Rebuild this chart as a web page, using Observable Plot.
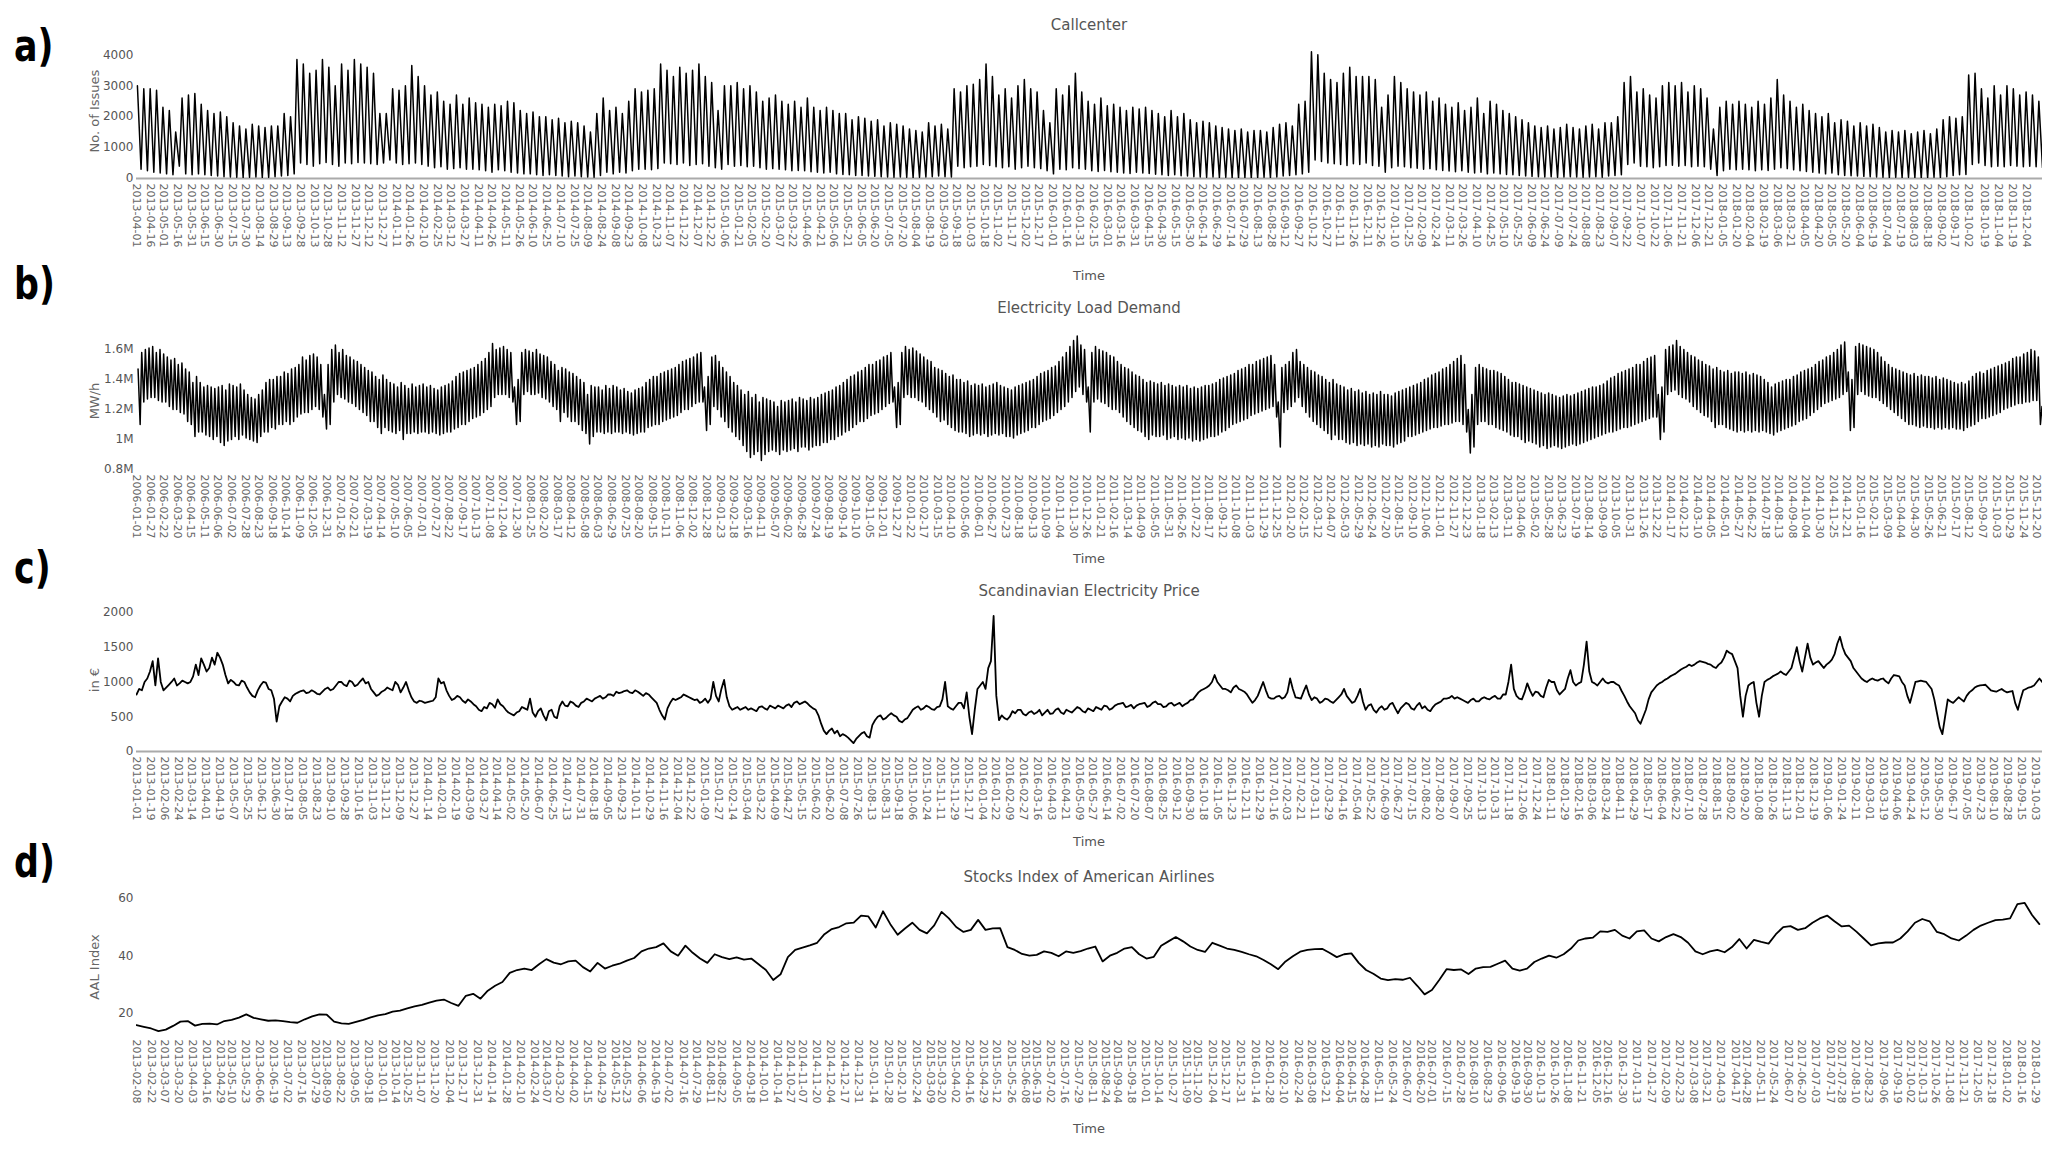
<!DOCTYPE html>
<html><head><meta charset="utf-8">
<script src="https://cdn.jsdelivr.net/npm/d3@7"></script>
<script src="https://cdn.jsdelivr.net/npm/@observablehq/plot@0.6"></script>
<style>
body{margin:0;background:#fff;}
#root{position:relative;width:2072px;height:1150px;overflow:hidden;background:#fff;font-family:"DejaVu Sans",sans-serif;}
.t{position:absolute;white-space:nowrap;line-height:1;}
.letter{font-family:"Liberation Sans Narrow","DejaVu Sans Condensed",sans-serif;font-weight:bold;font-size:44px;color:#000;transform-origin:0 0;transform:translate(0,-50%) scaleX(0.88);}
.title{font-size:15px;color:#555;transform:translate(-50%,-50%);}
.ylab{font-size:13px;color:#666;transform:translate(-50%,-50%) rotate(-90deg);}
.xlab{font-size:13px;color:#555;transform:translate(-50%,-50%);}
</style></head>
<body><div id="root"></div>
<script>
// ---------- a) Callcenter: weekly weekday peak / weekend low ----------
const callStart = "2013-04-01";
const callHigh = [
3000,2900,2900,2850,2300,2200,1500,2600,2700,2750,
2400,2200,2100,2150,2000,1800,1700,1600,1750,1700,
1650,1700,1700,2100,2000,3850,3700,3400,3500,3850,
3600,3000,3700,3500,3850,3700,3600,3400,2100,2100,
2900,2850,3000,3650,3300,3000,2700,2800,2500,2400,
2700,2400,2600,2450,2400,2300,2400,2350,2500,2450,
2200,2100,2150,2000,2000,1900,1950,1800,1850,1800,
1700,1500,2100,2600,2200,2300,2100,2500,2900,2800,
2850,2900,3700,3500,3300,3600,3400,3500,3700,3300,
3100,2200,3000,3000,3100,2900,3000,2800,2500,2600,
2700,2500,2400,2500,2300,2600,2300,2200,2300,2200,
2100,2100,1900,2000,1950,1850,1900,1700,1800,1750,
1700,1600,1550,1500,1800,1700,1750,1600,2900,2800,
3000,3050,3200,3700,3300,2700,2900,2600,3000,3200,
2900,2800,2200,1800,2900,2700,3000,3400,2800,2500,
2400,2600,2350,2400,2300,2200,2300,2250,2300,2200,
2100,2000,2200,2000,2100,1900,1800,1850,1800,1700,
1650,1600,1550,1600,1500,1550,1550,1500,1650,1750,
1800,1700,2400,2500,4100,4000,3400,3200,3100,3400,
3600,3300,3300,3300,3200,2300,2700,3300,3100,2900,
2800,2700,2800,2500,2600,2400,2300,2450,2200,2300,
2600,2100,2500,2400,2200,2100,2000,1900,1800,1700,
1650,1700,1600,1650,1750,1650,1600,1700,1750,1600,
1800,1800,2000,3100,3300,2800,2900,2700,2600,3000,
3100,3000,3100,2800,3000,2900,2600,1600,2300,2500,
2400,2500,2400,2300,2500,2400,2600,3200,2700,2500,
2300,2400,2200,2100,2000,2100,1800,1900,1850,1700,
1800,1700,1750,1650,1500,1550,1500,1550,1450,1500,
1550,1450,1600,1900,2000,1950,2000,3350,3400,2900,
2600,3000,2700,3000,2900,2700,2800,2700,2500];
const callLow = [
300,250,200,180,150,120,400,150,120,150,
120,100,80,60,50,40,30,40,50,30,
40,60,80,100,150,500,450,400,480,520,
450,400,500,480,520,500,480,450,500,600,
500,450,480,500,450,400,350,380,300,320,
350,300,300,280,250,200,280,250,200,180,
150,150,120,100,120,100,80,60,80,60,
50,40,100,200,150,200,180,250,300,300,
280,320,500,480,450,500,420,450,480,400,
350,300,450,400,420,380,400,350,300,320,
300,280,250,260,250,220,200,180,200,150,
130,120,100,100,80,70,60,50,40,50,
40,30,40,50,60,80,60,50,400,350,
380,400,450,420,380,350,380,300,350,400,
350,320,250,150,300,280,350,320,300,250,
230,260,220,200,180,160,200,180,160,140,
120,100,120,90,80,60,50,40,50,30,
40,30,20,30,20,30,40,30,50,80,
100,120,150,200,600,550,500,480,450,420,
480,450,500,420,400,200,350,400,380,350,
330,300,320,280,260,240,220,250,200,180,
200,150,180,150,130,120,100,80,70,60,
50,60,40,50,60,50,40,50,60,40,
80,100,120,450,500,400,380,350,380,420,
430,400,420,380,400,380,300,100,250,300,
280,300,280,250,280,260,300,350,320,280,
250,230,200,180,150,180,120,100,90,80,
70,60,50,40,30,40,30,40,30,20,
30,40,30,60,100,120,130,450,500,420,
380,400,380,420,400,380,400,380,350];
const callTickStart = "2013-04-01", callTickStep = 15, callTickCount = 135;
const callTickExtra = ["2018-10-19","2018-11-04","2018-11-19","2018-12-04"];
const callYTicks = [0,1000,2000,3000,4000];

// ---------- b) Electricity load (millions MW/h): weekly weekday peak / weekend low ----------
const loadStart = "2006-01-02";
const loadHigh = [
1.47,1.58,1.60,1.61,1.62,1.58,1.60,1.57,1.55,1.53,1.54,1.50,1.51,1.47,1.45,1.38,1.42,1.38,1.35,1.36,1.35,1.34,1.35,1.36,1.33,1.37,1.36,1.35,1.37,1.33,1.30,1.28,1.27,1.30,1.33,1.38,1.40,1.40,1.42,1.42,1.45,1.44,1.47,1.48,1.50,1.55,1.53,1.56,1.57,1.55,1.50,1.30,
1.50,1.60,1.63,1.58,1.60,1.56,1.55,1.53,1.52,1.50,1.48,1.46,1.45,1.42,1.40,1.43,1.40,1.38,1.37,1.35,1.38,1.36,1.34,1.37,1.35,1.36,1.37,1.35,1.36,1.34,1.33,1.35,1.36,1.37,1.39,1.42,1.44,1.45,1.46,1.47,1.48,1.50,1.52,1.54,1.58,1.64,1.60,1.61,1.62,1.60,1.58,1.35,
1.40,1.58,1.60,1.59,1.58,1.60,1.57,1.56,1.55,1.52,1.50,1.46,1.48,1.47,1.45,1.44,1.42,1.40,1.38,1.30,1.36,1.35,1.35,1.33,1.36,1.34,1.36,1.35,1.33,1.34,1.32,1.31,1.33,1.34,1.35,1.38,1.40,1.42,1.42,1.44,1.45,1.46,1.47,1.48,1.50,1.52,1.53,1.54,1.55,1.57,1.58,1.35,
1.42,1.55,1.56,1.52,1.48,1.45,1.42,1.38,1.36,1.33,1.30,1.32,1.28,1.30,1.25,1.28,1.27,1.26,1.25,1.22,1.26,1.25,1.26,1.27,1.25,1.28,1.27,1.26,1.28,1.27,1.28,1.30,1.31,1.32,1.33,1.35,1.36,1.38,1.40,1.42,1.43,1.45,1.46,1.48,1.50,1.50,1.52,1.53,1.55,1.56,1.58,1.35,
1.38,1.58,1.62,1.60,1.61,1.59,1.57,1.55,1.53,1.52,1.48,1.47,1.46,1.44,1.42,1.43,1.40,1.40,1.38,1.39,1.36,1.37,1.36,1.37,1.35,1.36,1.37,1.38,1.36,1.35,1.34,1.33,1.35,1.36,1.37,1.38,1.39,1.40,1.42,1.44,1.45,1.46,1.48,1.49,1.52,1.55,1.58,1.62,1.66,1.69,1.63,1.60,
1.35,1.58,1.62,1.60,1.59,1.58,1.56,1.55,1.52,1.50,1.48,1.47,1.45,1.43,1.42,1.40,1.38,1.39,1.38,1.37,1.38,1.36,1.37,1.36,1.35,1.36,1.35,1.36,1.34,1.35,1.34,1.35,1.36,1.36,1.37,1.38,1.40,1.41,1.42,1.43,1.44,1.46,1.47,1.48,1.50,1.50,1.52,1.53,1.54,1.55,1.56,1.50,
1.25,1.48,1.50,1.52,1.58,1.60,1.52,1.50,1.48,1.46,1.45,1.43,1.42,1.40,1.38,1.40,1.37,1.36,1.35,1.33,1.34,1.32,1.33,1.31,1.32,1.30,1.31,1.30,1.32,1.30,1.30,1.29,1.31,1.32,1.33,1.34,1.35,1.36,1.37,1.38,1.40,1.41,1.43,1.44,1.45,1.47,1.48,1.50,1.52,1.54,1.56,1.50,
1.20,1.30,1.48,1.50,1.48,1.47,1.46,1.46,1.45,1.44,1.42,1.40,1.38,1.38,1.37,1.36,1.35,1.34,1.33,1.32,1.31,1.30,1.31,1.30,1.29,1.28,1.29,1.30,1.29,1.30,1.31,1.32,1.33,1.34,1.35,1.35,1.36,1.37,1.39,1.41,1.42,1.44,1.45,1.46,1.47,1.48,1.50,1.50,1.52,1.54,1.55,1.56,
1.30,1.35,1.60,1.62,1.63,1.66,1.62,1.60,1.58,1.56,1.55,1.53,1.52,1.50,1.49,1.47,1.48,1.46,1.45,1.46,1.44,1.45,1.45,1.44,1.45,1.43,1.44,1.43,1.42,1.40,1.38,1.35,1.37,1.38,1.39,1.40,1.40,1.42,1.43,1.45,1.46,1.47,1.48,1.50,1.52,1.53,1.55,1.56,1.58,1.60,1.63,1.65,
1.45,1.40,1.62,1.64,1.63,1.62,1.61,1.60,1.58,1.55,1.52,1.50,1.48,1.47,1.46,1.45,1.44,1.43,1.44,1.42,1.43,1.42,1.42,1.41,1.42,1.40,1.41,1.40,1.39,1.38,1.37,1.38,1.37,1.39,1.42,1.44,1.45,1.44,1.46,1.47,1.48,1.49,1.50,1.51,1.52,1.54,1.55,1.55,1.57,1.58,1.60,1.59,
1.55,1.22];
const loadLow = [
1.10,1.25,1.27,1.28,1.28,1.26,1.25,1.25,1.22,1.20,1.20,1.18,1.17,1.12,1.10,1.02,1.05,1.05,1.03,1.02,1.00,1.02,0.98,0.96,0.99,1.00,1.02,1.00,1.03,1.01,1.00,0.99,0.98,1.02,1.05,1.05,1.08,1.07,1.10,1.10,1.12,1.10,1.12,1.15,1.17,1.18,1.18,1.20,1.22,1.20,1.15,1.07,
1.10,1.25,1.30,1.28,1.27,1.25,1.24,1.22,1.20,1.18,1.16,1.12,1.12,1.08,1.04,1.08,1.06,1.05,1.04,1.06,1.00,1.04,1.04,1.05,1.04,1.05,1.05,1.04,1.05,1.04,1.03,1.04,1.05,1.05,1.07,1.08,1.10,1.10,1.12,1.14,1.15,1.16,1.18,1.20,1.22,1.28,1.30,1.30,1.30,1.28,1.25,1.10,
1.12,1.30,1.32,1.30,1.30,1.31,1.28,1.27,1.25,1.22,1.20,1.12,1.18,1.15,1.12,1.12,1.10,1.06,1.04,0.97,1.02,1.05,1.05,1.04,1.05,1.04,1.05,1.05,1.04,1.05,1.04,1.03,1.04,1.05,1.05,1.08,1.09,1.10,1.10,1.12,1.13,1.14,1.15,1.16,1.18,1.20,1.20,1.22,1.24,1.25,1.25,1.06,
1.10,1.22,1.20,1.15,1.12,1.08,1.05,1.02,1.00,0.96,0.92,0.88,0.90,0.92,0.86,0.90,0.92,0.93,0.92,0.90,0.93,0.92,0.93,0.94,0.92,0.95,0.95,0.93,0.95,0.96,0.96,0.98,0.98,1.00,1.00,1.02,1.03,1.05,1.06,1.08,1.10,1.12,1.12,1.14,1.16,1.17,1.18,1.20,1.22,1.24,1.25,1.08,
1.10,1.28,1.30,1.28,1.28,1.26,1.25,1.22,1.20,1.18,1.15,1.12,1.13,1.10,1.08,1.06,1.05,1.05,1.04,1.02,1.03,1.04,1.03,1.04,1.02,1.03,1.04,1.03,1.04,1.02,1.02,1.01,1.03,1.04,1.05,1.06,1.08,1.08,1.10,1.12,1.13,1.14,1.16,1.18,1.20,1.22,1.25,1.28,1.32,1.35,1.30,1.25,
1.05,1.25,1.27,1.25,1.24,1.22,1.20,1.20,1.18,1.15,1.12,1.10,1.08,1.06,1.05,1.02,1.00,1.03,1.02,1.02,1.03,1.00,1.01,1.02,1.00,1.01,1.00,1.01,0.99,1.00,0.99,1.00,1.01,1.02,1.02,1.03,1.05,1.06,1.08,1.10,1.11,1.12,1.13,1.14,1.16,1.17,1.18,1.19,1.20,1.21,1.22,1.15,
0.95,1.18,1.20,1.22,1.25,1.28,1.22,1.18,1.15,1.12,1.10,1.08,1.06,1.04,1.00,1.03,1.00,1.00,0.98,0.97,0.98,0.96,0.97,0.96,0.97,0.95,0.96,0.95,0.97,0.96,0.96,0.95,0.97,0.98,0.99,1.02,1.02,1.03,1.04,1.05,1.06,1.07,1.08,1.08,1.09,1.10,1.10,1.11,1.12,1.12,1.10,1.05,
0.91,0.95,1.10,1.12,1.12,1.10,1.10,1.08,1.07,1.06,1.05,1.03,1.02,1.02,1.00,0.98,0.99,0.98,0.97,0.95,0.96,0.94,0.95,0.96,0.95,0.94,0.95,0.96,0.97,0.96,0.97,0.98,0.99,1.00,1.01,1.02,1.03,1.04,1.05,1.05,1.06,1.07,1.08,1.08,1.09,1.10,1.11,1.12,1.13,1.14,1.15,1.15,
1.00,1.05,1.30,1.32,1.33,1.30,1.28,1.27,1.25,1.22,1.20,1.18,1.16,1.15,1.12,1.08,1.10,1.10,1.08,1.07,1.06,1.05,1.06,1.05,1.06,1.05,1.06,1.05,1.06,1.05,1.04,1.03,1.05,1.06,1.07,1.08,1.09,1.10,1.12,1.13,1.14,1.16,1.18,1.20,1.22,1.24,1.25,1.26,1.27,1.28,1.30,1.32,
1.06,1.08,1.30,1.32,1.30,1.29,1.28,1.28,1.26,1.24,1.22,1.20,1.18,1.16,1.14,1.12,1.10,1.10,1.09,1.08,1.09,1.08,1.08,1.07,1.08,1.07,1.08,1.07,1.08,1.07,1.07,1.06,1.08,1.09,1.10,1.12,1.14,1.14,1.15,1.16,1.17,1.18,1.20,1.21,1.22,1.23,1.24,1.24,1.25,1.25,1.26,1.26,
1.10,1.05];
const loadTickStart = "2006-01-01", loadTickStep = 26, loadTickCount = 141;
const loadYTicks = [0.8,1.0,1.2,1.4,1.6];

// ---------- c) Scandinavian electricity price: start-of-week and mid-week readings ----------
const priceStart = "2013-01-01";
const priceWeekly = [
820,880,1050,1300,1340,880,960,1050,980,1000,
1000,1250,1340,1150,1350,1420,1250,980,1000,950,
1000,850,780,950,990,880,430,720,760,800,
850,880,850,860,820,900,880,950,1000,940,
1000,960,1050,1000,850,820,880,900,1000,850,
1000,780,700,720,710,730,1050,1000,800,760,
780,700,720,650,580,620,680,750,650,560,
520,580,620,760,500,620,450,600,480,720,
650,700,640,720,740,760,800,780,820,860,
850,880,840,860,800,820,740,600,460,700,
740,780,800,760,750,720,700,1000,720,1030,
650,620,600,640,620,580,650,600,640,660,
620,680,700,680,720,650,600,400,250,330,
300,250,200,120,220,280,200,450,520,480,
550,500,420,480,600,650,620,640,600,650,
1000,620,650,700,850,250,900,1000,1200,1950,
450,480,500,550,600,520,580,560,520,600,
550,620,540,580,600,620,560,600,640,600,
650,620,680,700,650,620,680,700,660,720,
680,650,700,680,650,700,750,850,900,950,
1100,950,900,850,950,880,820,700,800,1000,
780,760,800,780,1050,780,760,950,740,760,
720,750,700,780,900,750,720,900,600,680,
560,650,620,700,550,660,680,600,700,650,
580,680,720,760,800,780,740,700,760,720,
780,750,800,760,820,1250,800,750,980,800,
850,780,1030,1000,820,900,1170,950,1000,1580,
1000,950,1050,980,1000,950,800,650,550,400,
600,850,950,1000,1050,1100,1150,1200,1250,1250,
1300,1280,1250,1200,1280,1450,1400,1200,500,950,
1000,500,1000,1050,1100,1150,1100,1200,1500,1150,
1550,1250,1300,1200,1280,1400,1650,1400,1300,1150,
1050,1000,1050,1020,1050,980,1100,1080,950,700,
1000,1020,1000,900,550,250,750,700,780,720,
850,920,950,960,880,860,900,850,870,600,
880,920,950,1050];
const priceMid = [
900,1000,1150,950,1000,920,1000,950,1020,980,
1080,1100,1250,1200,1250,1350,1100,1030,960,1020,
920,800,880,1000,900,760,650,780,720,830,
870,840,880,830,860,920,900,1000,960,1020,
940,1010,980,900,800,860,920,880,960,920,
880,720,730,700,720,780,980,880,740,800,
730,750,680,600,640,700,630,680,600,540,
560,640,600,560,580,520,580,500,650,660,
720,660,700,760,720,780,760,820,800,840,
870,850,880,830,840,780,700,520,620,760,
760,820,780,740,700,760,760,800,900,780,
600,640,620,600,600,640,620,660,620,640,
660,640,720,700,690,620,520,300,300,260,
220,230,160,180,260,220,380,500,460,520,
520,440,460,540,630,600,660,610,640,750,
650,600,700,620,500,600,950,900,1300,800,
520,460,580,600,540,560,540,600,560,540,
600,560,600,560,640,580,620,580,620,660,
600,660,690,640,670,660,690,640,700,680,
640,690,660,700,680,740,800,880,920,1000,
1000,900,880,920,900,860,760,740,900,880,
760,790,760,850,900,770,860,820,780,700,
760,720,740,820,800,700,800,720,660,600,
620,600,680,620,620,700,620,660,620,600,
640,700,760,770,760,760,720,740,720,760,
760,780,760,820,1000,900,760,850,880,860,
800,920,1000,880,860,1050,1000,980,1250,1150,
980,1000,1000,1000,970,870,720,600,450,500,
750,900,980,1030,1080,1120,1180,1220,1230,1280,
1290,1260,1220,1250,1350,1420,1300,800,800,980,
700,800,1030,1080,1120,1120,1150,1350,1300,1350,
1350,1280,1250,1250,1320,1550,1500,1350,1200,1100,
1020,1030,1030,1040,1010,1050,1090,1000,800,850,
1010,1010,950,750,350,500,720,740,750,800,
880,940,955,920,870,880,870,860,700,750,
900,930,1000,1000];
const priceTickStart = "2013-01-01", priceTickStep = 18, priceTickCount = 138;
const priceYTicks = [0,500,1000,1500,2000];

// ---------- d) AAL stock index, weekly (Fridays) ----------
const aalStart = "2013-02-08";
const aalWeekly = [
15.8,15.2,14.6,13.7,14.2,15.5,17.0,17.2,15.6,16.2,
16.3,16.0,17.2,17.6,18.4,19.5,18.3,17.8,17.3,17.4,
17.2,16.8,16.6,17.8,18.8,19.5,19.4,17.0,16.4,16.2,
16.9,17.6,18.5,19.2,19.6,20.5,20.8,21.6,22.3,22.8,
23.6,24.3,24.7,23.5,22.5,26.0,26.7,25.0,27.8,29.5,
30.8,34.0,35.0,35.5,35.0,37.0,38.8,37.6,37.0,38.0,
38.3,36.0,34.5,37.5,35.5,36.5,37.2,38.3,39.2,41.5,
42.5,43.0,44.3,41.5,40.0,43.5,41.0,39.0,37.5,40.5,
39.5,38.8,39.4,38.6,39.0,37.0,35.0,31.5,33.5,39.5,
42.0,42.8,43.6,44.5,47.5,49.3,50.0,51.3,51.5,54.0,
53.7,49.8,55.5,51.0,47.3,49.5,51.5,49.0,47.8,50.6,
55.3,53.0,50.0,48.3,49.0,52.5,49.0,49.5,49.6,43.0,
42.0,40.6,40.0,40.3,41.5,41.0,39.8,41.5,41.0,41.6,
42.5,43.2,38.0,40.0,41.0,42.5,43.0,40.5,39.0,39.6,
43.5,45.0,46.5,45.0,43.2,42.0,41.3,44.5,43.5,42.5,
42.0,41.3,40.5,39.8,38.5,37.0,35.3,38.0,39.8,41.4,
42.0,42.3,42.4,41.0,39.5,40.5,40.8,37.5,35.0,33.7,
32.0,31.5,31.8,31.6,32.3,29.5,26.5,28.0,31.5,35.3,
35.0,35.2,33.6,35.5,36.0,36.1,37.2,38.3,35.5,34.8,
35.5,37.8,39.0,40.0,39.3,40.5,42.5,45.3,46.0,46.3,
48.5,48.3,49.0,47.0,46.0,48.5,48.8,46.0,45.0,46.5,
47.5,46.5,44.5,41.5,40.5,41.5,42.0,41.2,43.0,45.8,
42.5,45.5,44.8,44.2,47.5,50.0,50.3,49.0,49.6,51.5,
53.0,54.0,52.0,50.2,50.5,48.4,46.0,43.6,44.3,44.6,
44.6,46.0,48.5,51.5,52.8,52.0,48.3,47.5,46.0,45.3,
47.0,49.0,50.5,51.5,52.4,52.6,53.0,58.0,58.4,54.2,
51.0];
const aalTicks = ("2013-02-08 2013-02-22 2013-03-07 2013-03-20 2013-04-03 2013-04-16 2013-04-29 2013-05-10 2013-05-23 2013-06-06 2013-06-19 2013-07-02 2013-07-16 2013-07-29 2013-08-09 2013-08-22 2013-09-05 2013-09-18 2013-10-01 2013-10-14 2013-10-25 2013-11-07 2013-11-20 2013-12-04 2013-12-17 2013-12-31 " +
"2014-01-14 2014-01-28 2014-02-10 2014-02-24 2014-03-07 2014-03-20 2014-04-02 2014-04-15 2014-04-29 2014-05-12 2014-05-23 2014-06-06 2014-06-19 2014-07-02 2014-07-16 2014-07-29 2014-08-11 2014-08-22 2014-09-05 2014-09-18 2014-10-01 2014-10-14 2014-10-27 2014-11-07 2014-11-20 2014-12-04 2014-12-17 2014-12-31 " +
"2015-01-14 2015-01-28 2015-02-10 2015-02-24 2015-03-09 2015-03-20 2015-04-02 2015-04-16 2015-04-29 2015-05-12 2015-05-26 2015-06-08 2015-06-19 2015-07-02 2015-07-16 2015-07-29 2015-08-11 2015-08-24 2015-09-04 2015-09-18 2015-10-01 2015-10-14 2015-10-27 2015-11-09 2015-11-20 2015-12-04 2015-12-17 2015-12-31 " +
"2016-01-14 2016-01-28 2016-02-10 2016-02-24 2016-03-08 2016-03-21 2016-04-04 2016-04-15 2016-04-28 2016-05-11 2016-05-24 2016-06-07 2016-06-20 2016-07-01 2016-07-15 2016-07-28 2016-08-10 2016-08-23 2016-09-06 2016-09-19 2016-09-30 2016-10-13 2016-10-26 2016-11-08 2016-11-21 2016-12-05 2016-12-16 2016-12-30 " +
"2017-01-13 2017-01-27 2017-02-09 2017-02-23 2017-03-08 2017-03-21 2017-04-03 2017-04-17 2017-04-28 2017-05-11 2017-05-24 2017-06-07 2017-06-20 2017-07-03 2017-07-17 2017-07-28 2017-08-10 2017-08-23 2017-09-06 2017-09-19 2017-10-02 2017-10-13 2017-10-26 2017-11-08 2017-11-21 2017-12-05 2017-12-18 " +
"2018-01-02 2018-01-16 2018-01-29").split(" ");
const aalYTicks = [20,40,60];

// ---------- helpers ----------
const parse = s => new Date(s + "T00:00:00Z");
const DAY = 864e5;
function zigzag(start, firsts, seconds, off1, off2) {
  const t0 = parse(start).getTime(), out = [];
  firsts.forEach((h, i) => {
    out.push({date: new Date(t0 + (7 * i + off1) * DAY), value: h});
    out.push({date: new Date(t0 + (7 * i + off2) * DAY), value: seconds[i]});
  });
  return out;
}
function weekly(start, vals) {
  const t0 = parse(start).getTime();
  return vals.map((v, i) => ({date: new Date(t0 + 7 * i * DAY), value: v}));
}
function tickRange(start, step, count) {
  return d3.range(count).map(i => d3.utcDay.offset(parse(start), step * i));
}
const fmtDate = d3.utcFormat("%Y-%m-%d");
const root = document.getElementById("root");

function addText(cls, txt, x, y) {
  const d = document.createElement("div");
  d.className = "t " + cls; d.textContent = txt;
  d.style.left = x + "px"; d.style.top = y + "px";
  root.appendChild(d);
}

function panel(o) {
  const mt = 8, mb = 90;
  const h = Math.round(o.plotBottom - o.plotTop) + mt + mb;
  const svg = Plot.plot({
    width: 2072, height: h,
    marginLeft: 136, marginRight: 30, marginTop: mt, marginBottom: mb,
    style: {fontFamily: "DejaVu Sans, sans-serif", background: "none", overflow: "visible"},
    x: {type: "utc", domain: o.xDomain},
    y: {domain: o.yDomain},
    marks: [
      o.zero ? Plot.ruleY([0], {stroke: "#aaa", strokeWidth: 2}) : null,
      Plot.axisY({ticks: o.yTicks, tickFormat: o.yFormat, tickSize: 0, tickPadding: 3, fontSize: 12, color: "#555", label: null}),
      Plot.axisX({ticks: o.xTicks, tickFormat: fmtDate, tickRotate: 90, tickSize: 0, tickPadding: 5, fontSize: 11, color: "#666", label: null}),
      Plot.lineY(o.data, {x: "date", y: "value", stroke: "#000", strokeWidth: o.sw, clip: true})
    ]
  });
  svg.style.position = "absolute";
  svg.style.left = "0px";
  svg.style.top = (o.plotTop - mt) + "px";
  root.appendChild(svg);
}

// a) Callcenter
panel({
  data: zigzag(callStart, callHigh, callLow, 1, 5),
  xDomain: [parse("2013-04-01"), parse("2018-12-22")],
  xTicks: tickRange(callTickStart, callTickStep, callTickCount).concat(callTickExtra.map(parse)),
  yDomain: [0, 4300], yTicks: callYTicks, yFormat: d3.format("d"),
  plotTop: 45, plotBottom: 178, zero: true, sw: 1.5
});
// b) Electricity load
panel({
  data: zigzag(loadStart, loadHigh, loadLow, 2, 6),
  xDomain: [parse("2006-01-01"), parse("2015-12-31")],
  xTicks: tickRange(loadTickStart, loadTickStep, loadTickCount),
  yDomain: [0.8, 1.707], yTicks: loadYTicks, yFormat: v => d3.format("~g")(v) + "M",
  plotTop: 333, plotBottom: 469, zero: false, sw: 1.5
});
// c) Price
panel({
  data: zigzag(priceStart, priceWeekly, priceMid, 0, 3.5),
  xDomain: [parse("2013-01-01"), parse("2019-10-12")],
  xTicks: tickRange(priceTickStart, priceTickStep, priceTickCount),
  yDomain: [0, 2100], yTicks: priceYTicks, yFormat: d3.format("d"),
  plotTop: 605, plotBottom: 751, zero: true, sw: 1.8
});
// d) AAL
panel({
  data: weekly(aalStart, aalWeekly),
  xDomain: [parse("2013-02-08"), parse("2018-02-05")],
  xTicks: aalTicks.map(parse),
  yDomain: [12.5, 61], yTicks: aalYTicks, yFormat: d3.format("d"),
  plotTop: 895, plotBottom: 1033.5, zero: false, sw: 1.8
});

// texts
const panelLetters = ["a)", "b)", "c)", "d)"];
const panelTitles = ["Callcenter", "Electricity Load Demand", "Scandinavian Electricity Price", "Stocks Index of American Airlines"];
const yLabels = ["No. of Issues", "MW/h", "in \u20ac", "AAL Index"];
const xLabel = "Time";
const letterY = [46, 284, 568, 862];
const titleY = [25, 308, 591, 877];
const yLabelY = [111, 401, 680, 967];
const timeY = [275, 558, 841, 1128];
panelLetters.forEach((l, i) => addText("letter", l, 14, letterY[i]));
panelTitles.forEach((t, i) => addText("title", t, 1089, titleY[i]));
yLabels.forEach((t, i) => addText("ylab", t, 94, yLabelY[i]));
timeY.forEach(y => addText("xlab", xLabel, 1089, y));
</script>
</body></html>
